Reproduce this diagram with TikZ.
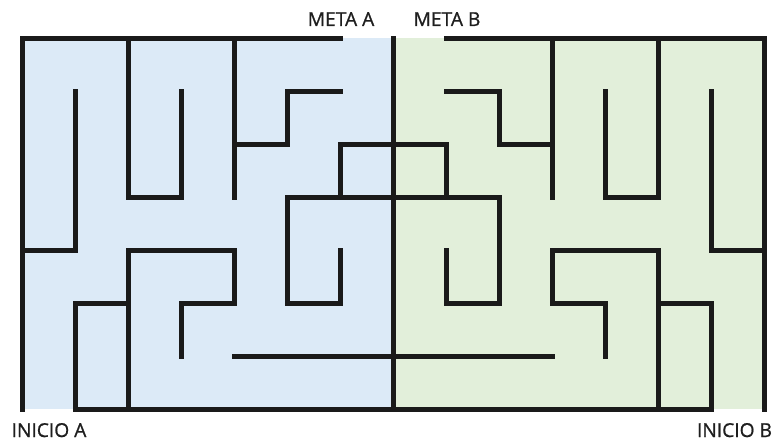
\documentclass[tikz,border=0pt]{standalone}
\usepackage{fontspec}
\setmainfont{Open Sans}
\newfontfamily\labfont[FakeBold=0.9]{Open Sans}
\definecolor{wallc}{RGB}{26,26,26}
\definecolor{blueA}{RGB}{220,234,247}
\definecolor{greenB}{RGB}{226,239,218}
\definecolor{labc}{RGB}{30,30,30}
\tikzset{
  wall/.style={line width=0.1cm, draw=wallc, line cap=rect, line join=miter},
  lab/.style={font=\labfont\fontsize{10.3pt}{12pt}\selectfont, text=labc, inner sep=0pt, anchor=base}
}
\begin{document}
\begin{tikzpicture}
\useasboundingbox (-0.4245,0.7264) rectangle (14.236,-7.594);
% half fills
\fill[blueA] (0,0) rectangle (7,-7);
\fill[greenB] (7,0) rectangle (14,-7);
% border
\draw[wall] (6,0) -- (0,0) -- (0,-7);
\draw[wall] (8,0) -- (14,0) -- (14,-7);
\draw[wall] (1,-7) -- (13,-7);
\draw[wall] (7,0) -- (7,-7);
% left half
\draw[wall] (1,-1) -- (1,-4) -- (0,-4);
\draw[wall] (2,0) -- (2,-3) -- (3,-3) -- (3,-1);
\draw[wall] (4,0) -- (4,-3);
\draw[wall] (4,-2) -- (5,-2) -- (5,-1) -- (6,-1);
\draw[wall] (2,-7) -- (2,-4) -- (4,-4) -- (4,-5) -- (3,-5) -- (3,-6);
\draw[wall] (2,-5) -- (1,-5) -- (1,-7);
% centre
\draw[wall] (6,-3) -- (6,-2) -- (8,-2) -- (8,-3);
\draw[wall] (6,-4) -- (6,-5) -- (5,-5) -- (5,-3) -- (9,-3) -- (9,-5) -- (8,-5) -- (8,-4);
\draw[wall] (4,-6) -- (10,-6);
% right half
\draw[wall] (13,-1) -- (13,-4) -- (14,-4);
\draw[wall] (12,0) -- (12,-3) -- (11,-3) -- (11,-1);
\draw[wall] (10,0) -- (10,-3);
\draw[wall] (10,-2) -- (9,-2) -- (9,-1) -- (8,-1);
\draw[wall] (12,-7) -- (12,-4) -- (10,-4) -- (10,-5) -- (11,-5) -- (11,-6);
\draw[wall] (12,-5) -- (13,-5) -- (13,-7);
% labels
\node[lab] (metaA) at (6.01,0.236) {META A};
\node[lab] (metaB) at (8.01,0.236) {META B};
\node[lab] (inicioA) at (0.5,-7.519) {INICIO A};
\node[lab] (inicioB) at (13.434,-7.519) {INICIO B};
\end{tikzpicture}
\end{document}
